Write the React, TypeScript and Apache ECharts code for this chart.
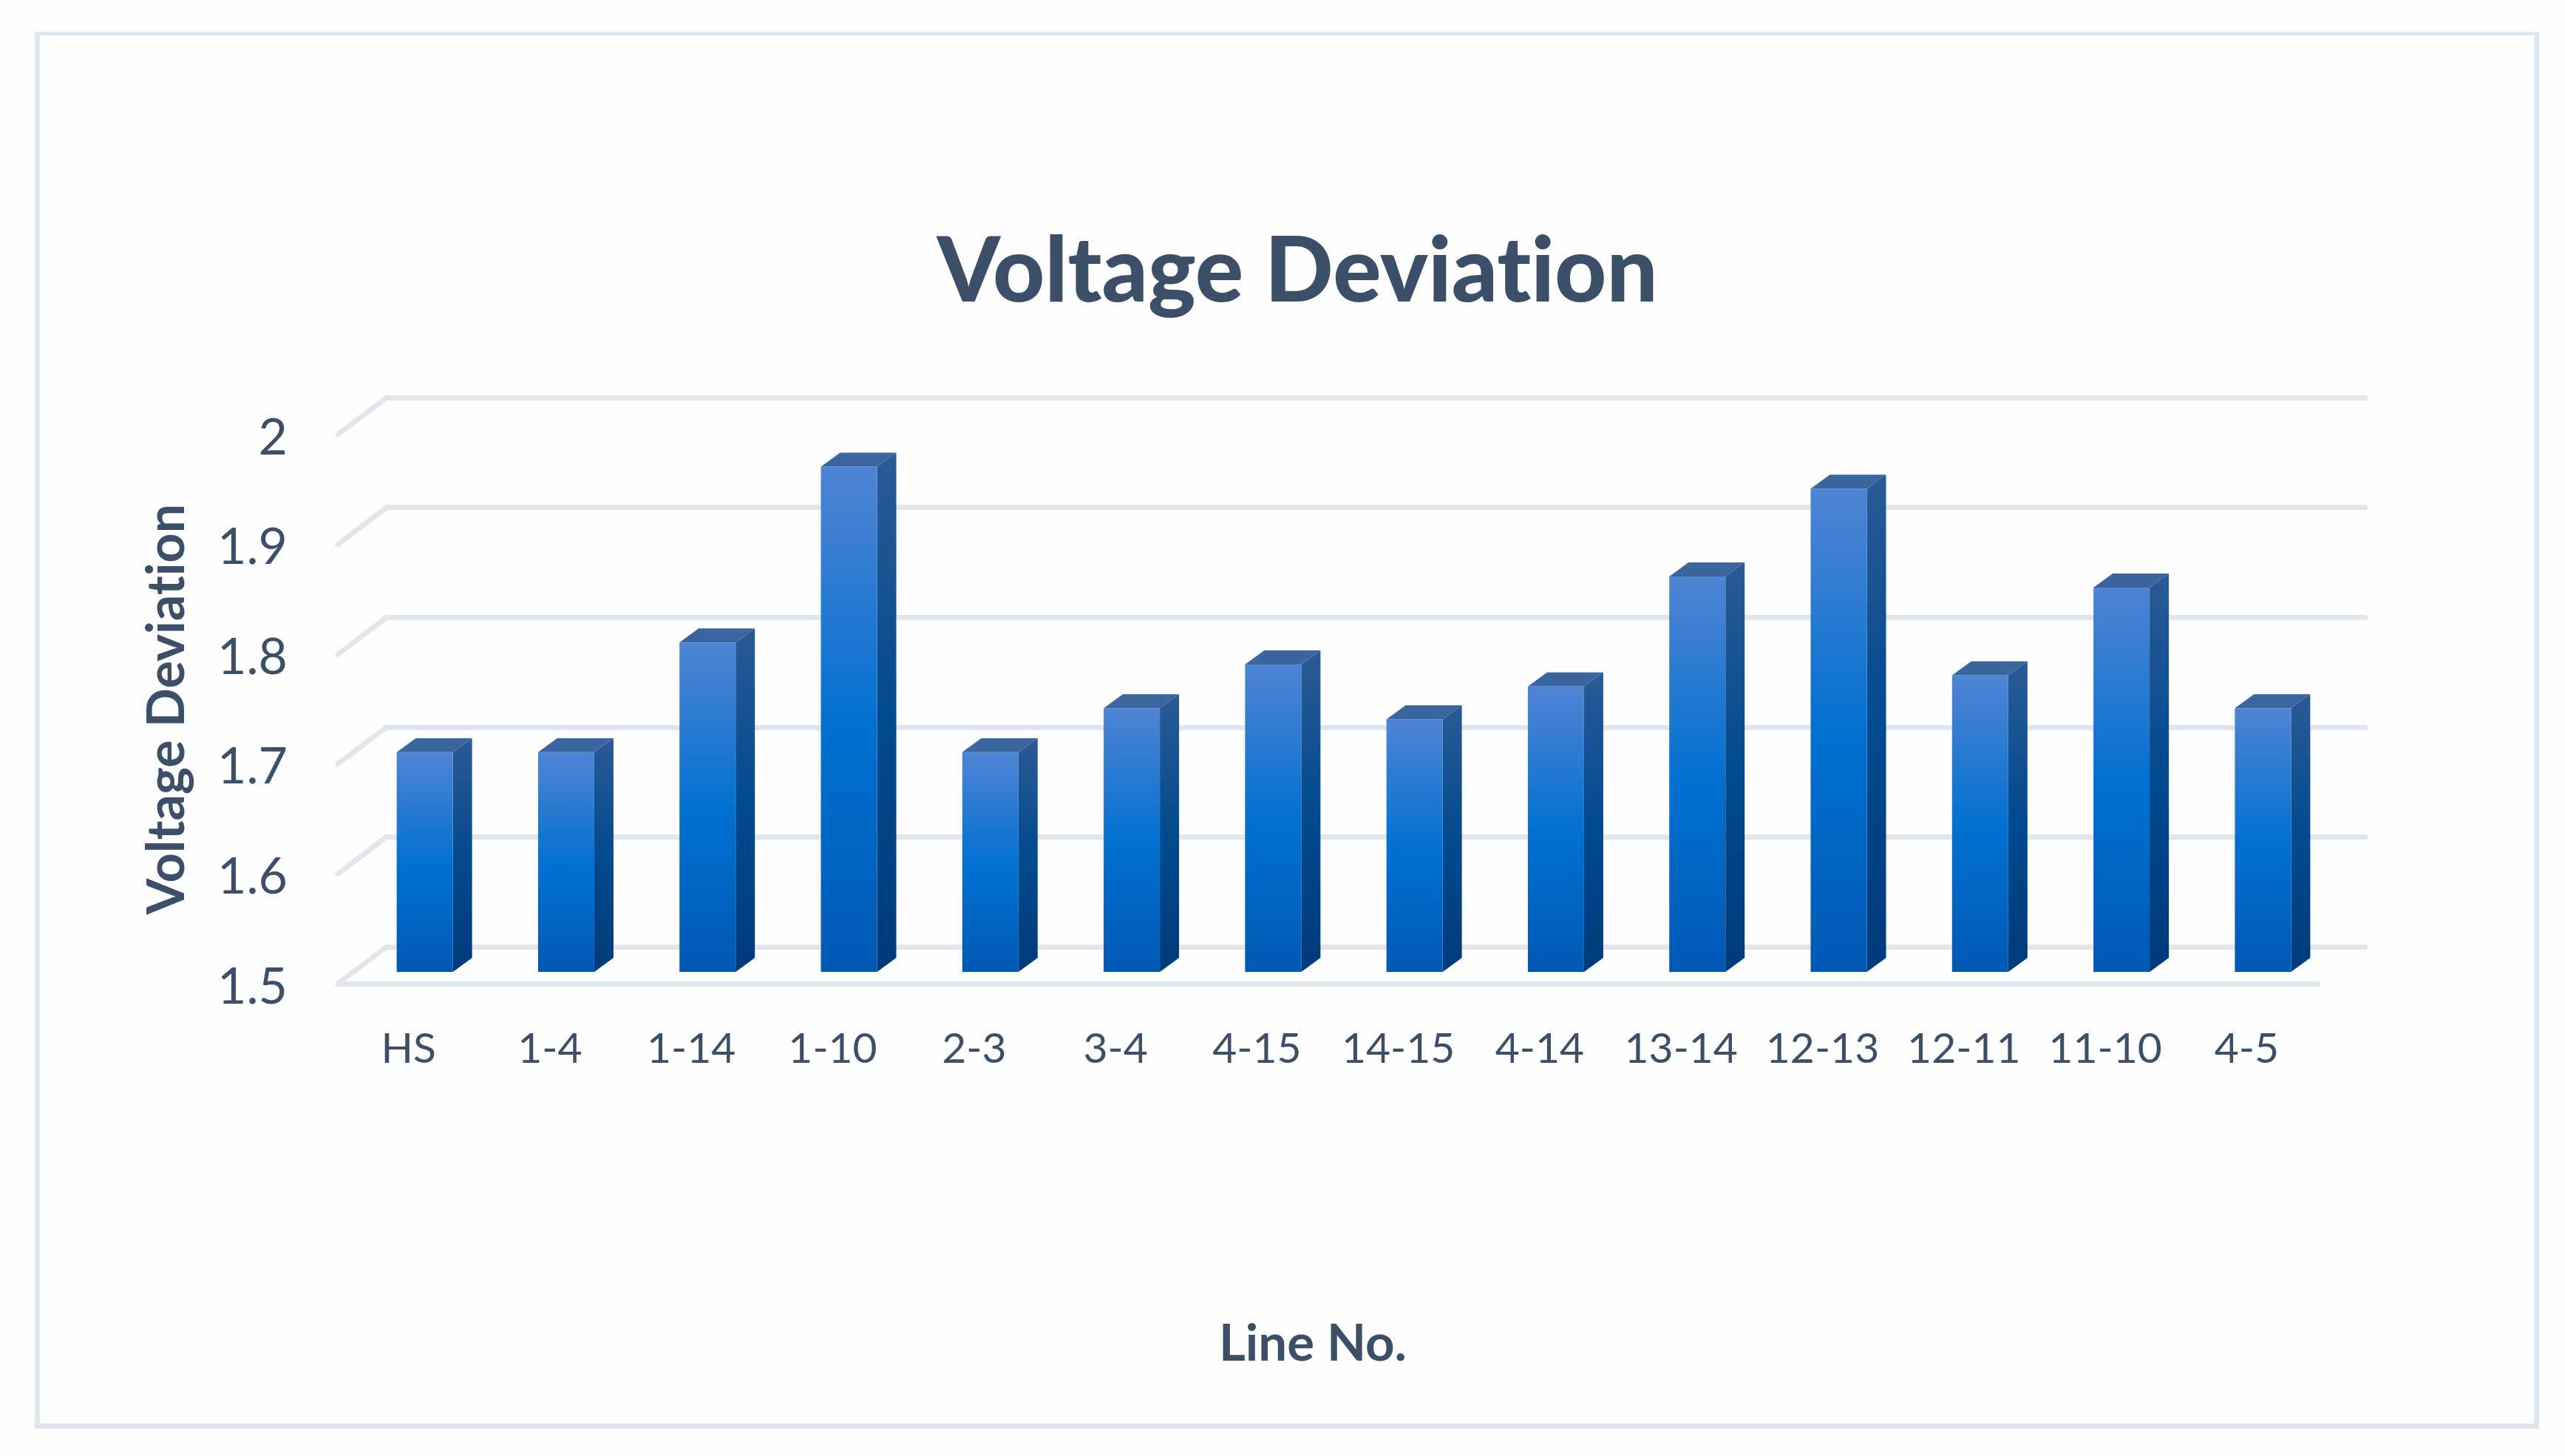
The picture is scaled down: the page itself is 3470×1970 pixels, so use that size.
import React, { useEffect, useRef } from "react";
import * as echarts from "echarts";

const categories = ["HS", "1-4", "1-14", "1-10", "2-3", "3-4", "4-15", "14-15", "4-14", "13-14", "12-13", "12-11", "11-10", "4-5"];
const values = [1.7, 1.7, 1.8, 1.96, 1.7, 1.74, 1.78, 1.73, 1.76, 1.86, 1.94, 1.77, 1.85, 1.74];
const wallTicks = [1.5, 1.6, 1.7, 1.8, 1.9, 2];
const titleText = "Voltage Deviation";
const yName = "Voltage Deviation";
const xName = "Line No.";

const INK = "#3b5068";
const GRID = "#e1e5ec";
const FRAME = "#dfe6ed";
const FONT = "Lato";

const grad = (stops: [number, string][]) =>
  new echarts.graphic.LinearGradient(0, 0, 0, 1, stops.map(([offset, color]) => ({ offset, color })));

const frameRect = (x: number, y: number, width: number, height: number) => ({
  type: "rect", shape: { x, y, width, height }, style: { fill: FRAME }, silent: true,
});

export default function App() {
  const ref = useRef<HTMLDivElement>(null);
  useEffect(() => {
    const chart = echarts.init(ref.current!, null, { renderer: "svg", width: 3470, height: 1970 });
    chart.setOption({
      animation: false,
      backgroundColor: "#fefefe",
      title: {
        text: titleText, left: 1750, top: 356, textAlign: "center", textVerticalAlign: "middle",
        textStyle: { fontFamily: FONT, fontWeight: 900, fontSize: 122, color: INK },
      },
      graphic: [
        frameRect(47, 43, 3388, 5),
        frameRect(47, 1926, 3388, 7),
        frameRect(47, 43, 7, 1890),
        frameRect(3428, 43, 7, 1890),
      ],
      grid: [
        { left: 457, top: 588, width: 2678, height: 743 },
        { left: 523, top: 538, width: 2677, height: 743 },
      ],
      xAxis: [
        {
          type: "category", data: categories, gridIndex: 0,
          axisTick: { show: false },
          axisLine: { lineStyle: { color: GRID, width: 7, cap: "round" } },
          axisLabel: { color: INK, fontFamily: FONT, fontSize: 57, margin: 56, interval: 0 },
          name: xName, nameLocation: "middle", nameGap: 449,
          nameTextStyle: { fontFamily: FONT, fontWeight: "bold", fontSize: 69, color: INK, padding: [0, 40, 0, 0] },
        },
        { type: "category", data: categories, gridIndex: 1, show: false },
      ],
      yAxis: [
        {
          type: "value", min: 1.5, max: 2, interval: 0.1, gridIndex: 0,
          axisLine: { show: false }, axisTick: { show: false }, splitLine: { show: false },
          axisLabel: { color: INK, fontFamily: FONT, fontSize: 68, margin: 68 },
          name: yName, nameLocation: "middle", nameRotate: 90, nameGap: 200,
          nameTextStyle: { fontFamily: FONT, fontWeight: "bold", fontSize: 70, color: INK },
        },
        {
          type: "value", min: 1.5, max: 2, interval: 0.1, gridIndex: 1,
          axisLine: { show: false }, axisTick: { show: false }, axisLabel: { show: false },
          splitLine: { show: true, lineStyle: { color: GRID, width: 7, cap: "round" } },
        },
      ],
      series: [
        {
          type: "custom", xAxisIndex: 1, yAxisIndex: 1, z: 1, silent: true,
          data: wallTicks.map((v) => [0, v]),
          encode: { x: 0, y: 1 },
          renderItem: (params: any, api: any) => {
            const y = api.coord([0, api.value(1)])[1];
            const x = params.coordSys.x;
            return {
              type: "line",
              shape: { x1: x, y1: y, x2: x - 66, y2: y + 50 },
              style: { stroke: GRID, lineWidth: 7, lineCap: "round" },
            };
          },
        },
        {
          type: "custom", xAxisIndex: 0, yAxisIndex: 0, z: 3, silent: true,
          data: values.map((v, i) => [i, v]),
          encode: { x: 0, y: 1 },
          renderItem: (_params: any, api: any) => {
            const [cx, yTop0] = api.coord([api.value(0), api.value(1)]);
            const [, yBase0] = api.coord([api.value(0), 1.5]);
            const w = 76, dx = 26, dy = 19;
            const l = cx + 22 - w / 2, r = l + w;
            const top = yTop0 - 16, base = yBase0 - 16;
            return {
              type: "group",
              children: [
                {
                  type: "polygon",
                  shape: { points: [[r, top], [r + dx, top - dy], [r + dx, base - dy], [r, base]] },
                  style: { fill: grad([[0, "#2b5a96"], [0.52, "#004a8e"], [1, "#003a7a"]]) },
                },
                {
                  type: "polygon",
                  shape: { points: [[l, top], [l + dx, top - dy], [r + dx, top - dy], [r, top]] },
                  style: { fill: "#3a659f" },
                },
                {
                  type: "rect",
                  shape: { x: l, y: top, width: w, height: base - top },
                  style: { fill: grad([[0, "#4f84d4"], [0.52, "#0070d0"], [1, "#0059b4"]]) },
                },
              ],
            };
          },
        },
      ],
    });
    return () => chart.dispose();
  }, []);
  return (
    <>
      <style>{"text { font-variant-ligatures: none !important; }"}</style>
      <div ref={ref} style={{ position: "fixed", left: 0, top: 0, width: 3470, height: 1970 }} />
    </>
  );
}
